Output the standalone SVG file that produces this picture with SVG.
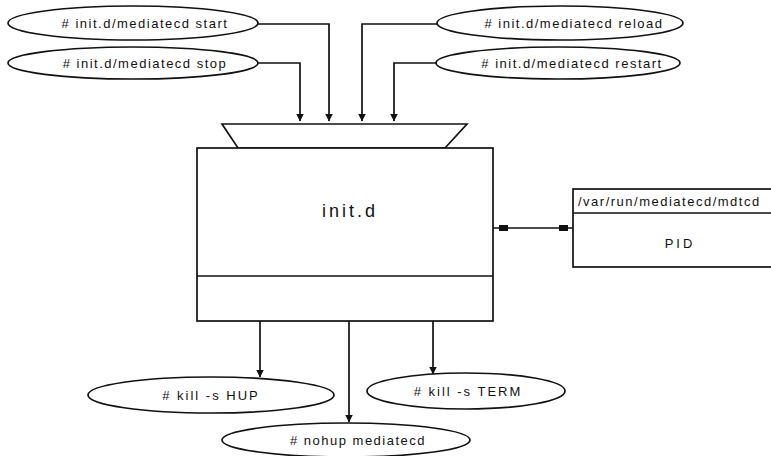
<svg xmlns="http://www.w3.org/2000/svg" width="771" height="456" viewBox="0 0 771 456">
  <defs>
    <marker id="arrow" viewBox="0 0 8 10" refX="7.5" refY="5" markerWidth="8" markerHeight="10" markerUnits="userSpaceOnUse" orient="auto">
      <path d="M0,1 L8,5 L0,9 z" fill="#111"/>
    </marker>
  </defs>
  <style>
    .shape { fill: #fff; stroke: #111; stroke-width: 1.7; }
    .wire { fill: none; stroke: #111; stroke-width: 1.7; }
    .label { font-family: "Liberation Sans", Arial, sans-serif; font-size: 13px; letter-spacing: 1.5px; fill: #111; }
    .title { font-family: "Liberation Sans", Arial, sans-serif; font-size: 18px; letter-spacing: 3px; fill: #111; }
  </style>
  <rect width="771" height="456" fill="#fff"/>

  <!-- command ellipses feeding the script -->
  <g id="cmd-start">
    <ellipse class="shape" cx="133" cy="23" rx="125" ry="17"/>
    <text class="label" x="145" y="28" text-anchor="middle"># init.d/mediatecd start</text>
  </g>
  <g id="cmd-stop">
    <ellipse class="shape" cx="133" cy="63" rx="125" ry="16"/>
    <text class="label" x="145" y="68" text-anchor="middle"># init.d/mediatecd stop</text>
  </g>
  <g id="cmd-reload">
    <ellipse class="shape" cx="560" cy="23" rx="123" ry="17"/>
    <text class="label" x="574" y="28" text-anchor="middle"># init.d/mediatecd reload</text>
  </g>
  <g id="cmd-restart">
    <ellipse class="shape" cx="558" cy="63" rx="122" ry="16"/>
    <text class="label" x="572" y="68" text-anchor="middle"># init.d/mediatecd restart</text>
  </g>

  <!-- init.d script block with its input funnel -->
  <g id="initd">
    <path class="shape" d="M222,124 L467,124 L445,148 L238,148 Z"/>
    <rect class="shape" x="197" y="148" width="296" height="173"/>
    <line class="wire" x1="197" y1="276" x2="493" y2="276"/>
    <text class="title" x="350" y="217" text-anchor="middle">init.d</text>
  </g>

  <!-- pid file -->
  <g id="pidfile">
    <rect class="shape" x="573" y="189" width="200" height="78"/>
    <line class="wire" x1="573" y1="213" x2="773" y2="213"/>
    <text class="label" x="578" y="206">/var/run/mediatecd/mdtcd</text>
    <text class="label" x="680" y="248" text-anchor="middle" style="letter-spacing:3px">PID</text>
  </g>

  <!-- signal / launch commands -->
  <g id="cmd-hup">
    <ellipse class="shape" cx="211" cy="395" rx="123" ry="18"/>
    <text class="label" x="211" y="400" text-anchor="middle" style="letter-spacing:2px"># kill -s HUP</text>
  </g>
  <g id="cmd-term">
    <ellipse class="shape" cx="466" cy="391" rx="99" ry="18"/>
    <text class="label" x="468" y="396" text-anchor="middle" style="letter-spacing:2px"># kill -s TERM</text>
  </g>
  <g id="cmd-nohup">
    <ellipse class="shape" cx="346" cy="440" rx="124" ry="17"/>
    <text class="label" x="358" y="445" text-anchor="middle"># nohup mediatecd</text>
  </g>

  <g id="connectors">
    <polyline class="wire" points="258,24 329,24 329,121" marker-end="url(#arrow)"/>
    <polyline class="wire" points="258,63 300,63 300,121" marker-end="url(#arrow)"/>
    <polyline class="wire" points="437,24 362,24 362,121" marker-end="url(#arrow)"/>
    <polyline class="wire" points="436,63 394,63 394,121" marker-end="url(#arrow)"/>
    <line class="wire" x1="493" y1="228" x2="573" y2="228"/>
    <rect x="499" y="225" width="9" height="6" fill="#111"/>
    <rect x="559" y="225" width="9" height="6" fill="#111"/>
    <line class="wire" x1="260" y1="321" x2="260" y2="377" marker-end="url(#arrow)"/>
    <line class="wire" x1="349" y1="321" x2="349" y2="422" marker-end="url(#arrow)"/>
    <line class="wire" x1="433" y1="321" x2="433" y2="374" marker-end="url(#arrow)"/>
  </g>
</svg>
